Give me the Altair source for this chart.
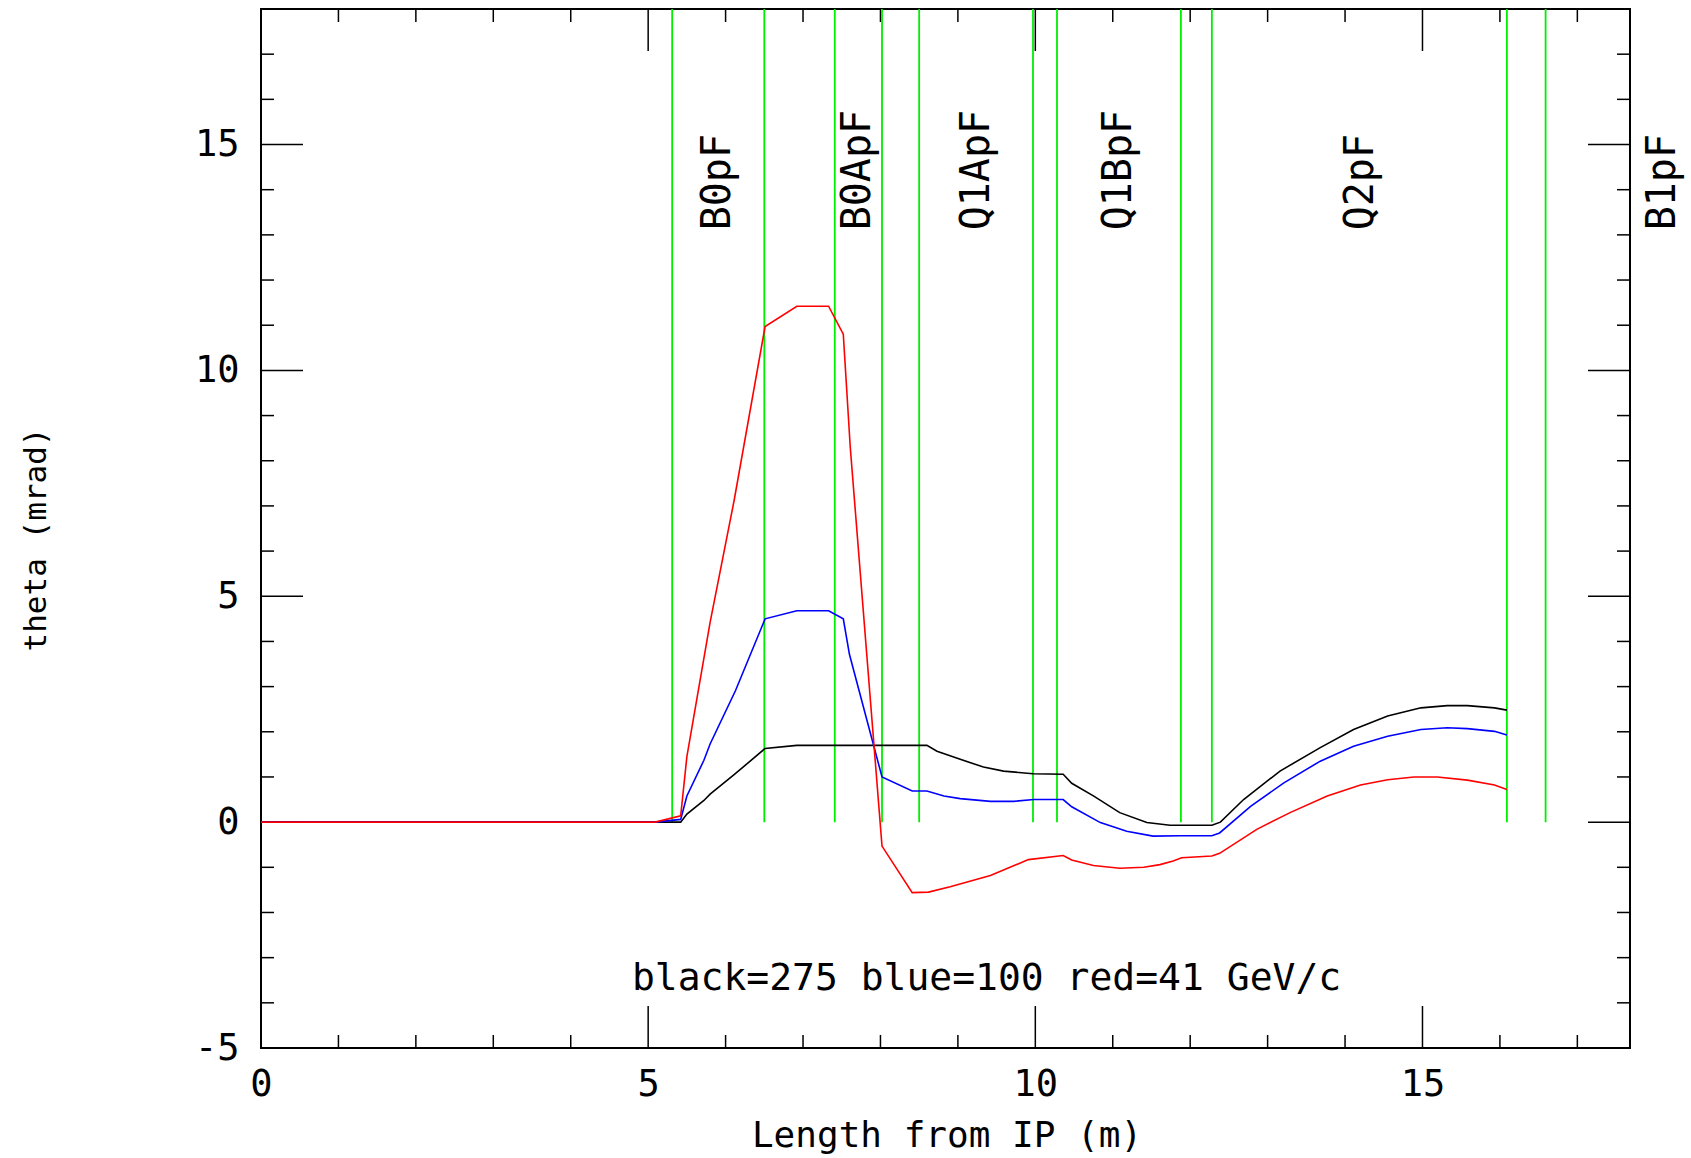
import altair as alt
import pandas as pd

# ---- data ----
black_x = [0, 5.42, 5.50, 5.72, 5.80, 6.11, 6.51, 6.92, 8.60, 8.73, 9.03, 9.33, 9.59, 9.97, 10.36, 10.47,
           10.75, 11.09, 11.44, 11.74, 12.28, 12.39, 12.69, 13.16, 13.68, 14.11, 14.55, 14.98, 15.32,
           15.58, 15.93, 16.09]
black_y = [0, 0.0, 0.18, 0.48, 0.62, 1.05, 1.63, 1.70, 1.70, 1.57, 1.39, 1.22, 1.13, 1.07, 1.06, 0.86,
           0.58, 0.21, -0.01, -0.07, -0.07, 0.0, 0.50, 1.13, 1.65, 2.05, 2.35, 2.53, 2.58,
           2.58, 2.53, 2.48]

blue_x = [0, 5.09, 5.42, 5.50, 5.72, 5.80, 6.13, 6.51, 6.92, 7.33, 7.52, 7.60, 8.02, 8.41, 8.60, 8.82,
          9.03, 9.42, 9.72, 9.98, 10.36, 10.47, 10.84, 11.18, 11.52, 11.87, 12.28, 12.38, 12.78, 13.21,
          13.68, 14.11, 14.55, 14.98, 15.32, 15.58, 15.93, 16.09]
blue_y = [0, 0, 0.06, 0.58, 1.37, 1.73, 2.92, 4.50, 4.68, 4.68, 4.50, 3.71, 1.00, 0.69, 0.69, 0.58,
          0.52, 0.46, 0.46, 0.50, 0.50, 0.34, -0.01, -0.20, -0.31, -0.30, -0.30, -0.24, 0.35, 0.87,
          1.35, 1.68, 1.90, 2.05, 2.09, 2.07, 2.01, 1.93]

red_x = [0, 5.09, 5.42, 5.50, 5.80, 6.11, 6.51, 6.92, 7.33, 7.52, 7.61, 8.02, 8.41, 8.62, 8.90, 9.42,
         9.91, 10.36, 10.47, 10.75, 11.09, 11.40, 11.61, 11.78, 11.89, 12.28, 12.38, 12.86, 13.29,
         13.77, 14.20, 14.55, 14.89, 15.19, 15.58, 15.93, 16.09]
red_y = [0, 0, 0.14, 1.45, 4.42, 7.12, 10.97, 11.42, 11.42, 10.80, 8.30, -0.53, -1.56, -1.55, -1.43, -1.18,
         -0.83, -0.74, -0.84, -0.96, -1.02, -1.00, -0.94, -0.86, -0.79, -0.75, -0.69, -0.16, 0.21,
         0.58, 0.82, 0.94, 1.00, 1.00, 0.93, 0.82, 0.72]

magnet_edges = [5.31, 6.50, 7.41, 8.02, 8.50, 9.97, 10.28, 11.88, 12.28, 16.09, 16.59]
magnet_names = ["B0pF", "B0ApF", "Q1ApF", "Q1BpF", "Q2pF", "B1pF"]
magnet_label_x = [5.90, 7.71, 9.25, 11.08, 14.20, 18.10]
magnet_label_y = 13.1

x_major = [5, 10, 15]
x_minor = [1, 2, 3, 4, 6, 7, 8, 9, 11, 12, 13, 14, 16, 17]
y_major = [0, 5, 10, 15]
y_minor = [-4, -3, -2, -1, 1, 2, 3, 4, 6, 7, 8, 9, 11, 12, 13, 14, 16, 17]
x_labels = [0, 5, 10, 15]
y_labels = [-5, 0, 5, 10, 15]

note_text = "black=275 blue=100 red=41 GeV/c"
note_x, note_y = 9.37, -3.72

# ---- layout ----
W, H = 1369, 1039
LEFT, TOP = 261, 9
FONT = "DejaVu Sans Mono"
MAJ, MIN = 42, 13

xs = alt.Scale(domain=[0, 17.68], nice=False, zero=False)
ys = alt.Scale(domain=[-5, 18], nice=False, zero=False)

curves = pd.concat([
    pd.DataFrame({"x": black_x, "y": black_y, "s": "black", "o": range(len(black_x))}),
    pd.DataFrame({"x": blue_x, "y": blue_y, "s": "blue", "o": range(len(blue_x))}),
    pd.DataFrame({"x": red_x, "y": red_y, "s": "red", "o": range(len(red_x))}),
])

x_axis = alt.Axis(values=x_labels, labelExpr="'' + datum.value", ticks=False, tickSize=0, domain=False,
                  grid=False,
                  labelFont=FONT, labelFontSize=37, labelColor="black", labelBaseline="alphabetic",
                  labelPadding=47, labelFlush=False, labelOverlap=False,
                  title="Length from IP (m)", titleFont=FONT, titleFontSize=36, titleFontWeight="normal",
                  titleColor="black", titleBaseline="alphabetic", titleY=98, titleX=W / 2 + 1)
y_axis = alt.Axis(values=y_labels, labelExpr="'' + datum.value", ticks=False, tickSize=0, domain=False,
                  grid=False,
                  labelFont=FONT, labelFontSize=37, labelColor="black", labelPadding=22,
                  labelFlush=False, labelOverlap=False,
                  title="theta (mrad)", titleFont=FONT, titleFontSize=31, titleFontWeight="normal",
                  titleColor="black", titleAngle=270, titleAlign="center", titleBaseline="middle",
                  titleX=36 - LEFT, titleY=539 - TOP)

XF = lambda f: alt.X(f, scale=xs, axis=x_axis, title="Length from IP (m)")
YF = lambda f: alt.Y(f, scale=ys, axis=y_axis, title="theta (mrad)")

lines = alt.Chart(curves).mark_line(strokeWidth=1.6, interpolate="linear").encode(
    x=XF("x:Q"),
    y=YF("y:Q"),
    color=alt.Color("s:N", scale=alt.Scale(domain=["black", "blue", "red"],
                                           range=["#000000", "#0000ff", "#ff0000"]), legend=None),
    order="o:Q",
)

green = alt.Chart(pd.DataFrame({"x": magnet_edges, "y0": 0, "y1": 18})).mark_rule(
    color="#00ee00", strokeWidth=1.8).encode(
    x=XF("x:Q"),
    y=YF("y0:Q"),
    y2="y1:Q",
)

labels = alt.Chart(pd.DataFrame({"x": magnet_label_x, "y": magnet_label_y, "name": magnet_names})).mark_text(
    font=FONT, fontSize=40, angle=270, align="left", baseline="middle", color="black"
).encode(
    x=XF("x:Q"),
    y=YF("y:Q"),
    text="name:N",
)

note = alt.Chart(pd.DataFrame({"x": [note_x], "y": [note_y], "t": [note_text]})).mark_text(
    font=FONT, fontSize=38, align="center", baseline="alphabetic", color="black"
).encode(
    x=XF("x:Q"),
    y=YF("y:Q"),
    text="t:N",
)


def xticks(vals, y0, y1):
    return alt.Chart(pd.DataFrame({"x": vals})).mark_rule(color="black", strokeWidth=1.5).encode(
        x=XF("x:Q"), y=alt.value(y0), y2=alt.value(y1))


def yticks(vals, x0, x1):
    return alt.Chart(pd.DataFrame({"y": vals})).mark_rule(color="black", strokeWidth=1.5).encode(
        y=YF("y:Q"), x=alt.value(x0), x2=alt.value(x1))


tick_layers = [
    xticks(x_major, H, H - MAJ), xticks(x_minor, H, H - MIN),
    xticks(x_major, 0, MAJ), xticks(x_minor, 0, MIN),
    yticks(y_major, 0, MAJ), yticks(y_minor, 0, MIN),
    yticks(y_major, W, W - MAJ), yticks(y_minor, W, W - MIN),
]

chart = alt.layer(*tick_layers, green, lines, labels, note).properties(
    width=W, height=H,
    autosize=alt.AutoSizeParams(type="none"),
    padding={"left": LEFT, "top": TOP, "right": 1691 - LEFT - W, "bottom": 1158 - TOP - H},
    background="white",
).configure_view(stroke="black", strokeWidth=2)

chart.save("out.html", embed_options={"renderer": "svg", "actions": False})
